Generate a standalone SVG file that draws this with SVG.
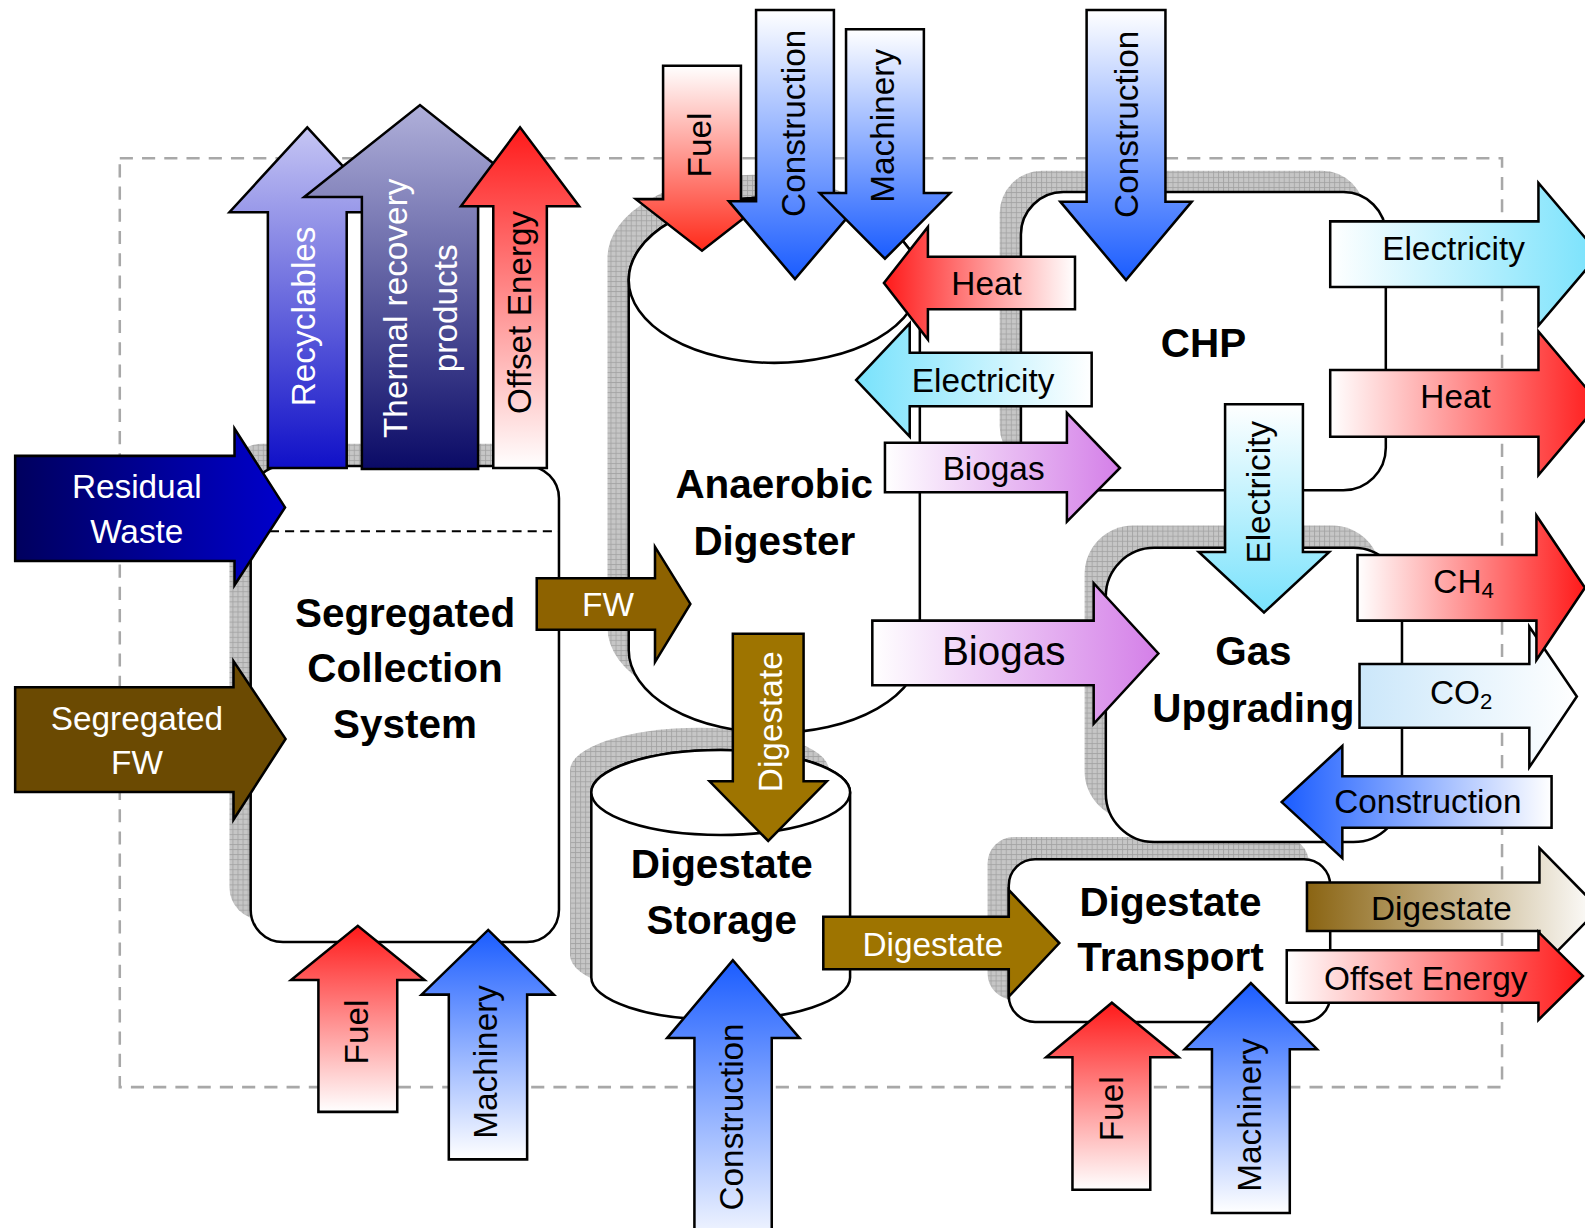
<svg xmlns="http://www.w3.org/2000/svg" width="1585" height="1228" viewBox="0 0 1585 1228">
<style>
.box{fill:#fff;stroke:#000;stroke-width:2.5}
.arr{stroke:#000;stroke-width:2.5;stroke-linejoin:miter}
.lbl{font-family:"Liberation Sans",Arial,sans-serif;font-size:33px;text-anchor:middle;fill:#000}
.big{font-size:40px;font-weight:bold}
.w{fill:#fff}
.sh{fill:url(#hatch)}
</style>
<defs>
<pattern id="hatch" width="5" height="5" patternUnits="userSpaceOnUse"><rect width="5" height="5" fill="#c6c6c6"/><path d="M0 0.5H5M0.5 0V5" stroke="#a2a2a2" stroke-width="0.8"/></pattern>
<linearGradient id="gRU" x1="0" y1="0" x2="0" y2="1"><stop offset="0" stop-color="#ff1a1a"/><stop offset="1" stop-color="#fff"/></linearGradient>
<linearGradient id="gRD" x1="0" y1="0" x2="0" y2="1"><stop offset="0" stop-color="#fff"/><stop offset="1" stop-color="#ff2a1a"/></linearGradient>
<linearGradient id="gRL" x1="0" y1="0" x2="1" y2="0"><stop offset="0" stop-color="#ff1a1a"/><stop offset="1" stop-color="#fff"/></linearGradient>
<linearGradient id="gRR" x1="0" y1="0" x2="1" y2="0"><stop offset="0" stop-color="#fff"/><stop offset="1" stop-color="#ff1a1a"/></linearGradient>
<linearGradient id="gBU" x1="0" y1="0" x2="0" y2="1"><stop offset="0" stop-color="#1a5cff"/><stop offset="1" stop-color="#fff"/></linearGradient>
<linearGradient id="gBD" x1="0" y1="0" x2="0" y2="1"><stop offset="0" stop-color="#fff"/><stop offset="1" stop-color="#1a5cff"/></linearGradient>
<linearGradient id="gBL" x1="0" y1="0" x2="1" y2="0"><stop offset="0" stop-color="#1a5cff"/><stop offset="1" stop-color="#fff"/></linearGradient>
<linearGradient id="gCL" x1="0" y1="0" x2="1" y2="0"><stop offset="0" stop-color="#78e2fc"/><stop offset="1" stop-color="#fff"/></linearGradient>
<linearGradient id="gCR" x1="0" y1="0" x2="1" y2="0"><stop offset="0" stop-color="#fff"/><stop offset="1" stop-color="#78e2fc"/></linearGradient>
<linearGradient id="gCD" x1="0" y1="0" x2="0" y2="1"><stop offset="0" stop-color="#fff"/><stop offset="1" stop-color="#78e2fc"/></linearGradient>
<linearGradient id="gVR" x1="0" y1="0" x2="1" y2="0"><stop offset="0" stop-color="#fff"/><stop offset="1" stop-color="#d47fe8"/></linearGradient>
<linearGradient id="gCO2" x1="0" y1="0" x2="1" y2="0"><stop offset="0" stop-color="#cbe7fa"/><stop offset="1" stop-color="#fff"/></linearGradient>
<linearGradient id="gDig" x1="0" y1="0" x2="1" y2="0"><stop offset="0" stop-color="#8a6412"/><stop offset="1" stop-color="#fff"/></linearGradient>
<linearGradient id="gRes" x1="0" y1="0" x2="1" y2="0"><stop offset="0" stop-color="#00005e"/><stop offset="1" stop-color="#0000cc"/></linearGradient>
<linearGradient id="gRec" x1="0" y1="0" x2="0" y2="1"><stop offset="0" stop-color="#c6c6f4"/><stop offset="1" stop-color="#1010c8"/></linearGradient>
<linearGradient id="gTh" x1="0" y1="0" x2="0" y2="1"><stop offset="0" stop-color="#b0b0da"/><stop offset="1" stop-color="#0a0a66"/></linearGradient>
</defs>
<rect width="1585" height="1228" fill="#fff"/>
<g transform="scale(1.0108)">
<rect id="boundary" x="118.5" y="156.5" width="1367.5" height="919" fill="none" stroke="#a8a8a8" stroke-width="2.5" stroke-dasharray="13 9"/>
<g id="shadows">
<rect class="sh" x="227" y="439" width="305" height="471" rx="32"/>
<path class="sh" transform="translate(-21,-22)" d="M622,277 V643 A144,82 0 0 0 910,643 V277 A144,82 0 0 0 622,277 Z"/>
<rect class="sh" x="989" y="169" width="361" height="295" rx="42"/>
<rect class="sh" x="1073" y="520" width="293" height="291" rx="48"/>
<path class="sh" transform="translate(-21,-22)" d="M585,784 V967 A128,42 0 0 0 841,967 V784 A128,42 0 0 0 585,784 Z"/>
<rect class="sh" x="977" y="828" width="318" height="161" rx="26"/>
</g>
<g id="collection">
<rect class="box" x="248" y="461" width="305" height="471" rx="32"/>
<path d="M267,525.5 H553" stroke="#000" stroke-width="2" stroke-dasharray="9 6"/>
<text class="lbl big" x="400.7" y="620">Segregated</text>
<text class="lbl big" x="400.7" y="675">Collection</text>
<text class="lbl big" x="400.7" y="730">System</text>
</g>
<g id="digester">
<path class="box" d="M622,277 V643 A144,82 0 0 0 910,643 V277 A144,82 0 0 0 622,277 Z"/>
<ellipse class="box" cx="766" cy="277" rx="144" ry="82"/>
<text class="lbl big" x="766" y="493">Anaerobic</text>
<text class="lbl big" x="766" y="549">Digester</text>
</g>
<g id="chp">
<rect class="box" x="1010" y="190" width="361" height="295" rx="42"/>
<text class="lbl big" x="1190.6" y="353">CHP</text>
</g>
<g id="upgrading">
<rect class="box" x="1094" y="542" width="293" height="291" rx="48"/>
<text class="lbl big" x="1240" y="658">Gas</text>
<text class="lbl big" x="1240" y="714">Upgrading</text>
</g>
<g id="storage">
<path class="box" d="M585,784 V967 A128,42 0 0 0 841,967 V784 A128,42 0 0 0 585,784 Z"/>
<ellipse class="box" cx="713" cy="784" rx="128" ry="42"/>
<text class="lbl big" x="714" y="869">Digestate</text>
<text class="lbl big" x="714" y="924">Storage</text>
</g>
<g id="transport">
<rect class="box" x="998" y="850" width="318" height="161" rx="26"/>
<text class="lbl big" x="1158" y="906">Digestate</text>
<text class="lbl big" x="1158" y="961">Transport</text>
</g>
<g id="connectors">
<g id="a-recyclables"><polygon class="arr" fill="url(#gRec)" points="265,463 265,210 227,210 304,126 381,210 343,210 343,463"/><text class="lbl w" transform="translate(312,313) rotate(-90)">Recyclables</text></g>
<g id="a-thermal"><polygon class="arr" fill="url(#gTh)" points="358,464 358,195 301,195 415.5,104 530,195 473,195 473,464"/><text class="lbl w" transform="translate(402.5,305) rotate(-90)">Thermal recovery</text><text class="lbl w" transform="translate(451.7,305) rotate(-90)">products</text></g>
<g id="a-offset-up"><polygon class="arr" fill="url(#gRU)" points="488,463 488,204 456,204 514.5,126 573,204 541,204 541,463"/><text class="lbl" transform="translate(525.5,309) rotate(-90)">Offset Energy</text></g>
<g id="a-residual"><polygon class="arr" fill="url(#gRes)" points="15,451 232,451 232,424 282,502 232,579 232,555 15,555"/><text class="lbl w" x="135.3" y="493">Residual</text><text class="lbl w" x="135.3" y="537">Waste</text></g>
<g id="a-segfw"><polygon class="arr" fill="#6b4a02" points="15,680 231,680 231,654 282.5,731 231,811 231,783.5 15,783.5"/><text class="lbl w" x="135.5" y="722">Segregated</text><text class="lbl w" x="135.5" y="766">FW</text></g>
<g id="a-fuel-coll"><polygon class="arr" fill="url(#gRU)" points="315,1100 315,969.5 288,969.5 354,916 420,969.5 393,969.5 393,1100"/><text class="lbl" transform="translate(364,1021) rotate(-90)">Fuel</text></g>
<g id="a-mach-coll"><polygon class="arr" fill="url(#gBU)" points="444,1147 444,984 417,984 483,920 548,984 521.5,984 521.5,1147"/><text class="lbl" transform="translate(492,1050.6) rotate(-90)">Machinery</text></g>
<g id="a-fw"><polygon class="arr" fill="#8d6200" points="531,572 648,572 648,541 683,597.5 648,655 648,623 531,623"/><text class="lbl w" x="601.5" y="609.5">FW</text></g>
<g id="a-fuel-ad"><polygon class="arr" fill="url(#gRD)" points="656,65 733,65 733,197 760,197 694.5,248 629,197 656,197"/><text class="lbl" transform="translate(703,143.5) rotate(-90)">Fuel</text></g>
<g id="a-cons-ad"><polygon class="arr" fill="url(#gBD)" points="748,10 825,10 825,199 852,199 786.5,276 721,199 748,199"/><text class="lbl" transform="translate(796.5,122) rotate(-90)">Construction</text></g>
<g id="a-mach-ad"><polygon class="arr" fill="url(#gBD)" points="837,29 914,29 914,191 940,191 875.5,256 811,191 837,191"/><text class="lbl" transform="translate(884.5,124.5) rotate(-90)">Machinery</text></g>
<g id="a-elec-ad"><polygon class="arr" fill="url(#gCL)" points="1080,349 900,349 900,320 847,376 900,432 900,402 1080,402"/><text class="lbl" x="972.6" y="387.5">Electricity</text></g>
<g id="a-heat-ad"><polygon class="arr" fill="url(#gRL)" points="1063.5,254 918,254 918,224.5 874.5,280 918,336 918,306 1063.5,306"/><text class="lbl" x="976" y="292">Heat</text></g>
<g id="a-biogas-chp"><polygon class="arr" fill="url(#gVR)" points="875.5,438 1055.5,438 1055.5,408.5 1108,463 1055.5,516 1055.5,487 875.5,487"/><text class="lbl" x="983" y="475">Biogas</text></g>
<g id="a-cons-chp"><polygon class="arr" fill="url(#gBD)" points="1075,10 1153,10 1153,199.5 1179,199.5 1114,277 1049,199.5 1075,199.5"/><text class="lbl" transform="translate(1126,123) rotate(-90)">Construction</text></g>
<g id="a-elec-out"><polygon class="arr" fill="url(#gCR)" points="1316,219 1522,219 1522,181 1582,251.5 1522,322 1522,284 1316,284"/><text class="lbl" x="1438" y="257">Electricity</text></g>
<g id="a-heat-out"><polygon class="arr" fill="url(#gRR)" points="1316,366 1522,366 1522,328 1582,399 1522,470 1522,432 1316,432"/><text class="lbl" x="1440" y="404">Heat</text></g>
<g id="a-elec-gu"><polygon class="arr" fill="url(#gCD)" points="1212,400 1289,400 1289,546 1315,546 1250.5,606 1186,546 1212,546"/><text class="lbl" transform="translate(1256,487) rotate(-90)">Electricity</text></g>
<g id="a-biogas-gu"><polygon class="arr" fill="url(#gVR)" points="863,614 1082,614 1082,577 1146,646.5 1082,716 1082,678 863,678"/><text class="lbl" style="font-size:40px" x="993" y="658">Biogas</text></g>
<g id="a-co2"><polygon class="arr" fill="url(#gCO2)" points="1345,657 1513,657 1513,620 1560,689 1513,759 1513,720 1345,720"/><text class="lbl" x="1445.5" y="696.5">CO<tspan font-size="22" dy="5">2</tspan></text></g>
<g id="a-ch4"><polygon class="arr" fill="url(#gRR)" points="1343,549 1520,549 1520,510 1568,581.5 1520,653 1520,614 1343,614"/><text class="lbl" x="1448" y="587">CH<tspan font-size="22" dy="5">4</tspan></text></g>
<g id="a-cons-gu"><polygon class="arr" fill="url(#gBL)" points="1535,768 1328,768 1328,738 1268,793.5 1328,849 1328,819 1535,819"/><text class="lbl" x="1412.6" y="804.6">Construction</text></g>
<g id="a-dig-down"><polygon class="arr" fill="#9e7400" points="725,627 795,627 795,773 818,773 760,832 702,773 725,773"/><text class="lbl w" transform="translate(774,714) rotate(-90)">Digestate</text></g>
<g id="a-cons-st"><polygon class="arr" fill="url(#gBU)" points="687,1240 687,1027 660,1027 725,950 791,1027 763.5,1027 763.5,1240"/><text class="lbl" transform="translate(735,1105) rotate(-90)">Construction</text></g>
<g id="a-dig-right"><polygon class="arr" fill="#9e7400" points="814.5,907 998,907 998,880.5 1048,933 998,986 998,959 814.5,959"/><text class="lbl w" x="923" y="946">Digestate</text></g>
<g id="a-fuel-tr"><polygon class="arr" fill="url(#gRU)" points="1061,1177 1061,1046 1035,1046 1100,992 1166,1046 1138,1046 1138,1177"/><text class="lbl" transform="translate(1111,1097) rotate(-90)">Fuel</text></g>
<g id="a-mach-tr"><polygon class="arr" fill="url(#gBU)" points="1199,1200 1199,1038 1172,1038 1237.5,972.5 1303,1038 1276,1038 1276,1200"/><text class="lbl" transform="translate(1247.6,1103) rotate(-90)">Machinery</text></g>
<g id="a-dig-out"><polygon class="arr" fill="url(#gDig)" points="1293,873 1523,873 1523,839 1582,899 1523,959 1523,921 1293,921"/><text class="lbl" x="1426" y="910">Digestate</text></g>
<g id="a-offset-out"><polygon class="arr" fill="url(#gRR)" points="1273,940 1522,940 1522,922 1566,965.5 1522,1009 1522,992 1273,992"/><text class="lbl" x="1410.5" y="979">Offset Energy</text></g>
</g>
</g>
</svg>
